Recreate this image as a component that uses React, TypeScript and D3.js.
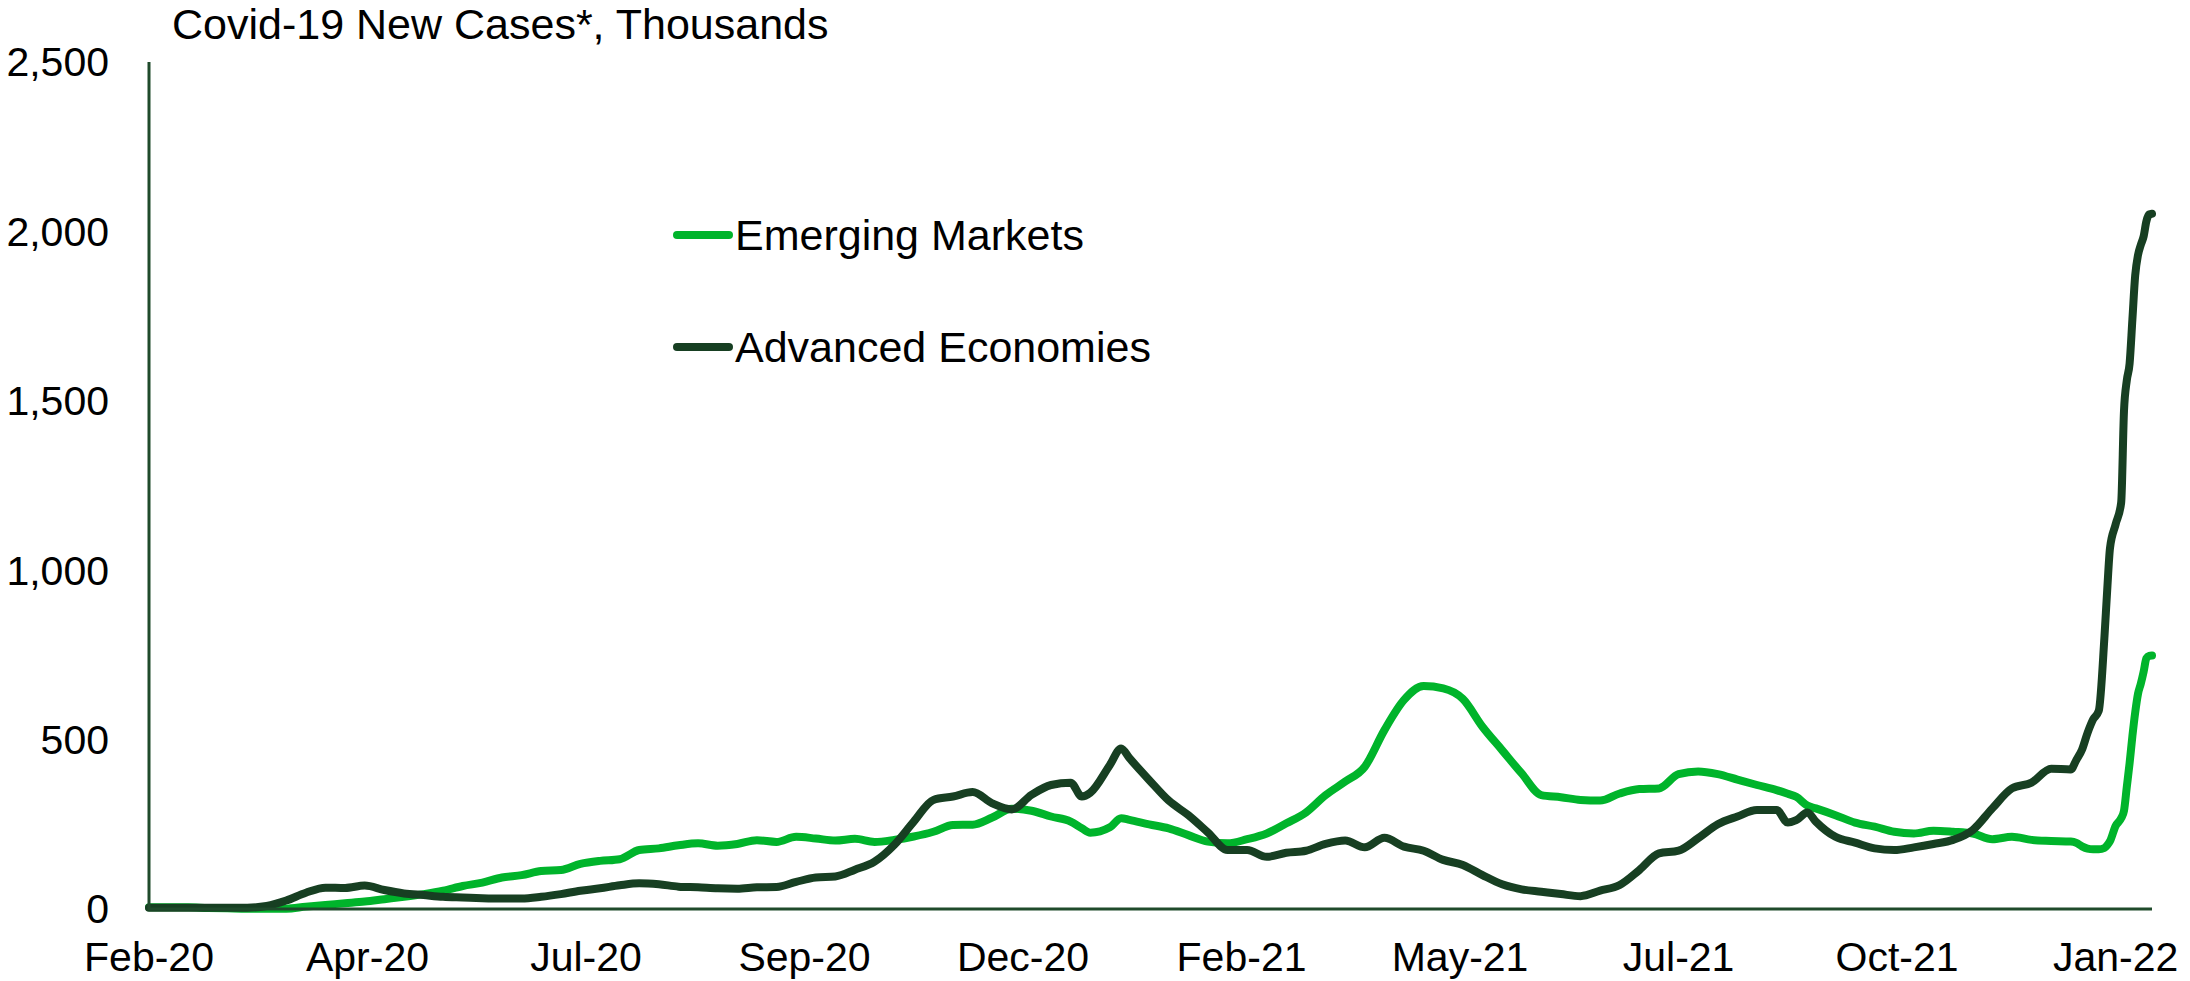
import React from 'react';
import * as d3 from 'd3';

// Days counted from 1 Feb 2020
const START_YEAR = 2020;
const START_MONTH = 1; // February (0-based)
const START_DAY = 1;
const LAST_DAY = 715;

const dayOffsets = [
  0, 7, 14, 21, 28, 35, 42, 49, 56, 63, 70, 77, 84, 91, 98, 105, 112, 119, 126, 133,
  140, 147, 154, 161, 168, 175, 182, 189, 196, 203, 210, 217, 224, 231, 238, 245, 252, 259, 266, 273,
  280, 287, 294, 301, 308, 315, 322, 329, 333, 336, 343, 347, 350, 357, 364, 371, 378, 385, 392, 399,
  406, 413, 420, 427, 434, 441, 448, 455, 462, 469, 476, 483, 490, 497, 504, 511, 518, 525, 532, 539,
  546, 553, 560, 567, 574, 581, 585, 588, 592, 595, 602, 609, 616, 623, 630, 637, 644, 651, 658, 665,
  672, 679, 686, 688, 690, 692, 694, 696, 698, 699, 700, 702, 704, 705, 706, 707, 708, 709, 710, 711,
  712, 713, 714, 715,
];

const emergingMarkets = [
  5, 5, 5, 3, 2, 1, 1, 1, 7, 12, 17, 22, 29, 36, 44, 54, 68, 78, 93, 100,
  112, 115, 133, 142, 147, 174, 179, 188, 194, 187, 192, 203, 198, 213, 208, 202, 207, 198, 204, 214,
  228, 248, 249, 270, 296, 290, 273, 258, 238, 225, 241, 268, 263, 250, 238, 218, 199, 194, 206, 223,
  253, 285, 336, 376, 420, 528, 617, 658, 651, 620, 538, 469, 400, 336, 330, 322, 320, 341, 354, 356,
  398, 406, 398, 382, 366, 351, 340, 331, 305, 297, 277, 255, 243, 228, 223, 231, 228, 223, 206, 213,
  204, 201, 199, 195, 185, 178, 176, 176, 180, 188, 200, 245, 268, 290, 360, 430, 510, 580, 635, 665,
  700, 740, 747, 748,
];

const advancedEconomies = [
  4, 4, 4, 4, 4, 4, 9, 25, 48, 63, 62, 69, 56, 46, 41, 36, 34, 32, 31, 31,
  36, 44, 54, 61, 70, 76, 73, 66, 64, 61, 60, 64, 65, 80, 93, 96, 116, 140, 189, 258,
  322, 332, 345, 312, 294, 337, 366, 373, 332, 343, 425, 474, 445, 381, 320, 277, 226, 174, 174, 154,
  166, 172, 192, 202, 182, 210, 184, 172, 145, 130, 100, 73, 58, 51, 44, 38, 54, 71, 115, 164,
  172, 209, 250, 273, 292, 292, 255, 262, 285, 258, 213, 196, 179, 174, 182, 192, 204, 233, 297, 356,
  373, 414, 412, 440, 470, 520, 560, 585, 800, 940, 1065, 1135, 1200, 1470, 1560, 1610, 1740, 1870, 1930, 1960,
  1985, 2030, 2050, 2052,
];

const seriesNames = ['Emerging Markets', 'Advanced Economies'];
const seriesColors = ['#00b42b', '#173f22'];

const yTicks = [0, 500, 1000, 1500, 2000, 2500];
const yTickLabels = ['0', '500', '1,000', '1,500', '2,000', '2,500'];

const xTickDays = [0, 78, 156, 234, 312, 390, 468, 546, 624, 702];
const xTickLabels = ['Feb-20', 'Apr-20', 'Jul-20', 'Sep-20', 'Dec-20', 'Feb-21', 'May-21', 'Jul-21', 'Oct-21', 'Jan-22'];

const title = 'Covid-19 New Cases*, Thousands';

const dateOf = (d: number) => new Date(START_YEAR, START_MONTH, START_DAY + d);

export default function App() {
  const W = 2190;
  const H = 981;
  const left = 149;
  const right = 2152;
  const top = 62;
  const bottom = 909;
  const font = '"Liberation Sans", Arial, sans-serif';
  const axisFs = 41;
  const bigFs = 43;
  const axisColor = '#1f4a2b';

  const x = d3.scaleTime().domain([dateOf(0), dateOf(LAST_DAY)]).range([left, right]);
  const y = d3.scaleLinear().domain([0, 2500]).range([bottom, top]);

  const line = d3
    .line<[number, number]>()
    .x((d) => x(dateOf(d[0])))
    .y((d) => y(d[1]))
    .curve(d3.curveMonotoneX);

  const emPts: [number, number][] = dayOffsets.map((d, i) => [d, emergingMarkets[i]]);
  const aePts: [number, number][] = dayOffsets.map((d, i) => [d, advancedEconomies[i]]);

  const legendY = [235, 347];

  return (
    <svg
      width={W}
      height={H}
      style={{ position: 'absolute', left: 0, top: 0, display: 'block', background: '#fff' }}
    >
      <text x={172} y={39} fontFamily={font} fontSize={bigFs} fill="#000">
        {title}
      </text>

      {yTicks.map((t, i) => (
        <text
          key={t}
          x={109}
          y={y(t)}
          dy="0.35em"
          textAnchor="end"
          fontFamily={font}
          fontSize={axisFs}
          fill="#000"
        >
          {yTickLabels[i]}
        </text>
      ))}

      {xTickDays.map((d, i) => (
        <text
          key={d}
          x={x(dateOf(d))}
          y={971}
          textAnchor="middle"
          fontFamily={font}
          fontSize={axisFs}
          fill="#000"
        >
          {xTickLabels[i]}
        </text>
      ))}

      <path d={line(emPts) || ''} fill="none" stroke={seriesColors[0]} strokeWidth={8} strokeLinejoin="round" strokeLinecap="round" />
      <path d={line(aePts) || ''} fill="none" stroke={seriesColors[1]} strokeWidth={8} strokeLinejoin="round" strokeLinecap="round" />

      <line x1={left} x2={left} y1={top} y2={bottom + 1.5} stroke={axisColor} strokeWidth={3} />
      <line x1={left} x2={right} y1={bottom} y2={bottom} stroke={axisColor} strokeWidth={3} />

      {seriesNames.map((name, i) => (
        <g key={name}>
          <line
            x1={677}
            x2={729}
            y1={legendY[i]}
            y2={legendY[i]}
            stroke={seriesColors[i]}
            strokeWidth={8}
            strokeLinecap="round"
          />
          <text x={735} y={legendY[i]} dy="0.35em" fontFamily={font} fontSize={bigFs} fill="#000">
            {name}
          </text>
        </g>
      ))}
    </svg>
  );
}
